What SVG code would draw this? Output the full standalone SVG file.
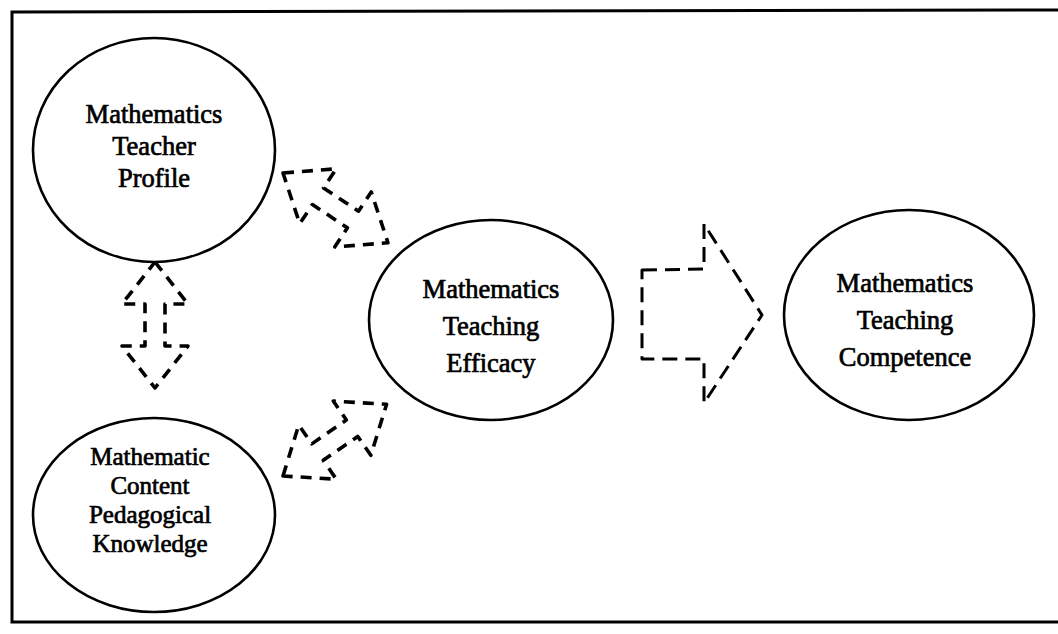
<svg xmlns="http://www.w3.org/2000/svg" width="1058" height="634" viewBox="0 0 1058 634">
<style>
.frame{fill:none;stroke:#000;stroke-width:3}
.node{fill:#fff;stroke:#000;stroke-width:2.6}
.lbl{font-family:"Liberation Serif","Times New Roman",serif;font-size:26.5px;fill:#000;stroke:#000;stroke-width:0.7;text-anchor:middle}
.sm{font-size:25px}
.dbl{fill:none;stroke:#000;stroke-width:3.6;stroke-dasharray:11 8;stroke-linejoin:round}
.big{fill:none;stroke:#000;stroke-width:3;stroke-dasharray:15 8;stroke-linejoin:round}
</style>
<defs>
<polygon id="dblArrow" points="0,0 42,-33 42,-10 84,-10 84,-33 126,0 84,33 84,10 42,10 42,33"/>
</defs>
<rect x="0" y="0" width="1058" height="634" fill="#fff"/>
<path class="frame" d="M1058,10 L12,12 L12,622 L1058,622"/>
<g id="connectors">
<use href="#dblArrow" class="dbl" transform="translate(283,173) rotate(33.6)"/>
<use href="#dblArrow" class="dbl" transform="translate(155,262) rotate(90)"/>
<use href="#dblArrow" class="dbl" transform="translate(283,476) rotate(-34.7)"/>
<polygon class="big" points="642,270 704,269 704,224 762,315 704,403 704,359 642,359"/>
</g>
<g id="node-profile">
<ellipse class="node" cx="154" cy="150" rx="121" ry="112"/>
<text class="lbl" x="154" y="123">Mathematics</text>
<text class="lbl" x="154" y="155">Teacher</text>
<text class="lbl" x="154" y="187">Profile</text>
</g>
<g id="node-content">
<ellipse class="node" cx="154" cy="515" rx="121" ry="97"/>
<text class="lbl sm" x="150" y="465">Mathematic</text>
<text class="lbl sm" x="150" y="494">Content</text>
<text class="lbl sm" x="150" y="523">Pedagogical</text>
<text class="lbl sm" x="150" y="552">Knowledge</text>
</g>
<g id="node-efficacy">
<ellipse class="node" cx="491" cy="320" rx="122" ry="100"/>
<text class="lbl" x="491" y="298">Mathematics</text>
<text class="lbl" x="491" y="335">Teaching</text>
<text class="lbl" x="491" y="372">Efficacy</text>
</g>
<g id="node-competence">
<ellipse class="node" cx="909" cy="315" rx="125" ry="105"/>
<text class="lbl" x="905" y="292">Mathematics</text>
<text class="lbl" x="905" y="329">Teaching</text>
<text class="lbl" x="905" y="366">Competence</text>
</g>
</svg>
